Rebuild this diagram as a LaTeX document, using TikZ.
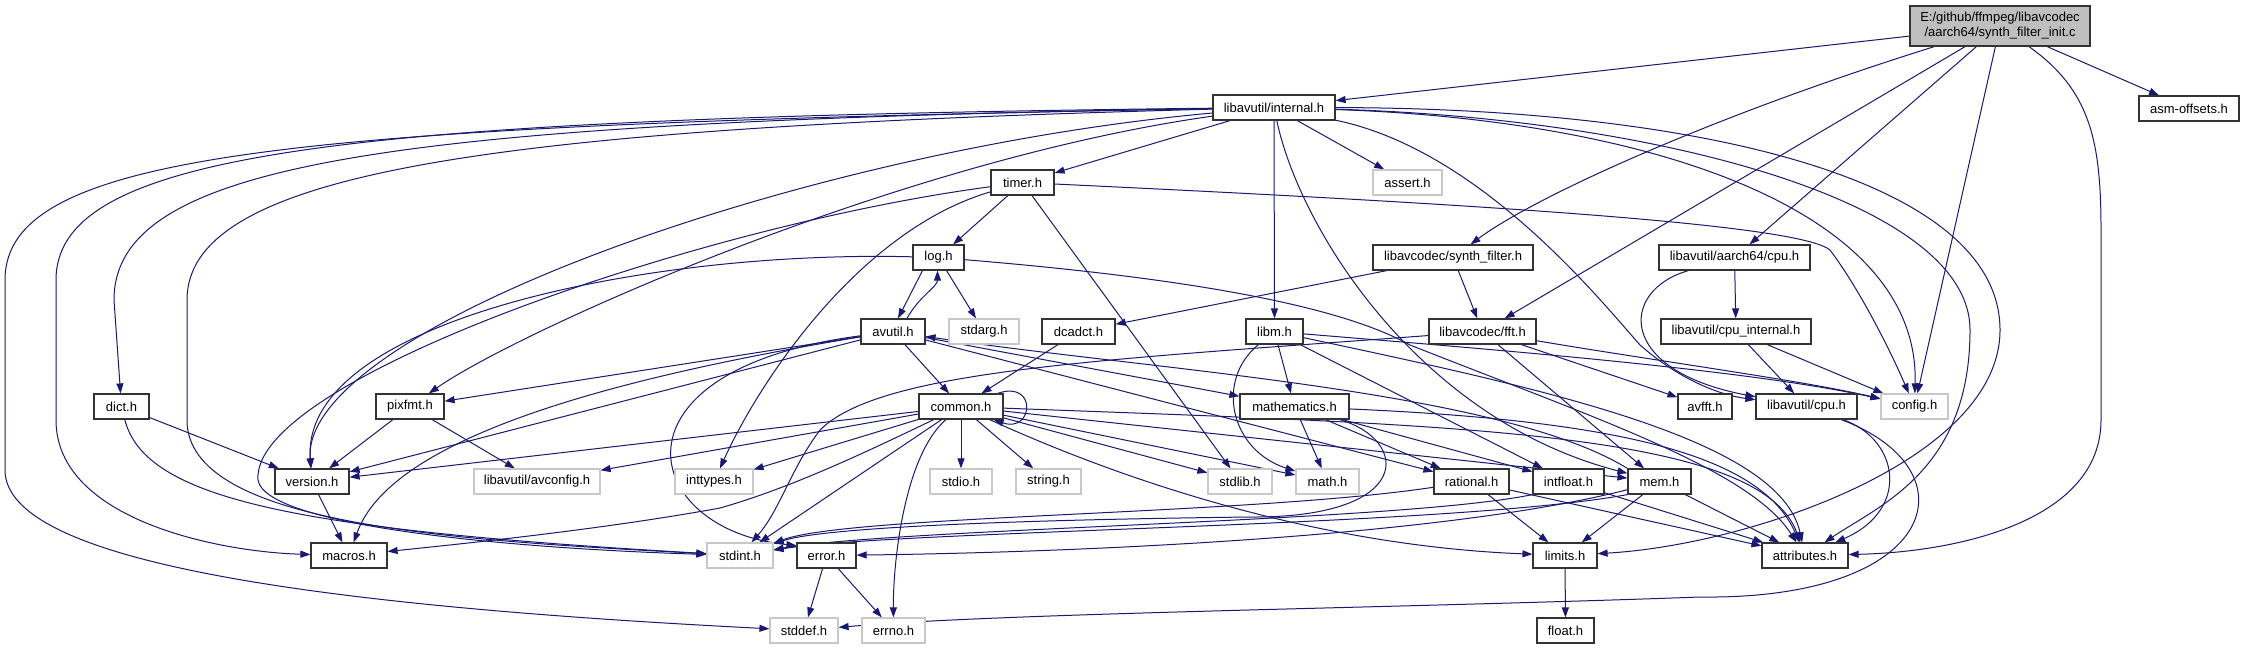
\documentclass[tikz,border=0pt]{standalone}
\usepackage{fontspec}
\setmainfont{Liberation Sans}
\usetikzlibrary{arrows.meta}
\definecolor{edgeblue}{HTML}{191970}
\definecolor{sysgray}{HTML}{C8C8C8}
\definecolor{mainfill}{HTML}{BFBFBF}
\pgfdeclarelayer{bg}
\pgfsetlayers{bg,main}
\begin{document}
\begin{tikzpicture}[x=1pt,y=-1pt,
  nbox/.style={rectangle, inner sep=0pt, minimum height=25pt, font=\fontsize{13}{15}\selectfont, line width=1.2pt, fill=white},
  hdr/.style={nbox, draw=black!80},
  sys/.style={nbox, draw=sysgray},
  mainbox/.style={nbox, draw=black!80, fill=mainfill, minimum height=40pt, align=center},
  dep/.style={draw=edgeblue, line width=1pt, -{Triangle[length=10pt,width=7pt]}}]
\useasboundingbox (0,0) rectangle (2245,649);
\begin{pgfonlayer}{bg}
\fill[white] (0,0) rectangle (2245,649);
\end{pgfonlayer}
% nodes
\node[mainbox, minimum width=180pt] (main) at (2000,26) {E:/github/ffmpeg/libavcodec\\/aarch64/synth\_filter\_init.c};
\node[hdr, minimum width=122pt] (internal) at (1274,107.5) {libavutil/internal.h};
\node[hdr, minimum width=100pt] (asmoffsets) at (2189,108.5) {asm-offsets.h};
\node[hdr, minimum width=63pt] (timer) at (1022.5,182.5) {timer.h};
\node[sys, minimum width=69pt] (assert) at (1407.5,182.5) {assert.h};
\node[hdr, minimum width=51pt] (log) at (938.5,257.5) {log.h};
\node[hdr, minimum width=160pt] (synth) at (1453,257.5) {libavcodec/synth\_filter.h};
\node[hdr, minimum width=151pt] (aacpu) at (1734.5,257.5) {libavutil/aarch64/cpu.h};
\node[hdr, minimum width=64pt] (avutil) at (893,331.5) {avutil.h};
\node[sys, minimum width=70pt] (stdarg) at (984,331.5) {stdarg.h};
\node[hdr, minimum width=73pt] (dcadct) at (1078.5,331.5) {dcadct.h};
\node[hdr, minimum width=57pt] (libm) at (1274.5,331.5) {libm.h};
\node[hdr, minimum width=107pt] (fft) at (1482.5,331.5) {libavcodec/fft.h};
\node[hdr, minimum width=150pt] (cpuint) at (1736,331.5) {libavutil/cpu\_internal.h};
\node[hdr, minimum width=55pt] (dict) at (121.5,406.5) {dict.h};
\node[hdr, minimum width=68pt] (pixfmt) at (410,406.5) {pixfmt.h};
\node[hdr, minimum width=84pt] (common) at (961,406.5) {common.h};
\node[hdr, minimum width=109pt] (mathematics) at (1294.5,406.5) {mathematics.h};
\node[hdr, minimum width=54pt] (avfft) at (1705,406.5) {avfft.h};
\node[hdr, minimum width=101pt] (cpu) at (1806.5,406.5) {libavutil/cpu.h};
\node[sys, minimum width=67pt] (config) at (1914.5,406.5) {config.h};
\node[hdr, minimum width=74pt] (version) at (312,481.5) {version.h};
\node[sys, minimum width=126pt] (avconfig) at (537,481.5) {libavutil/avconfig.h};
\node[sys, minimum width=78pt] (inttypes) at (714,481.5) {inttypes.h};
\node[sys, minimum width=62pt] (stdio) at (961,481.5) {stdio.h};
\node[sys, minimum width=65pt] (string) at (1048.5,481.5) {string.h};
\node[sys, minimum width=64pt] (stdlib) at (1240,481.5) {stdlib.h};
\node[sys, minimum width=63pt] (math) at (1327.5,481.5) {math.h};
\node[hdr, minimum width=75pt] (rational) at (1471.5,481.5) {rational.h};
\node[hdr, minimum width=71pt] (intfloat) at (1568.5,481.5) {intfloat.h};
\node[hdr, minimum width=63pt] (mem) at (1659.5,481.5) {mem.h};
\node[hdr, minimum width=76pt] (macros) at (349,555.5) {macros.h};
\node[sys, minimum width=66pt] (stdint) at (740,555.5) {stdint.h};
\node[hdr, minimum width=59pt] (error) at (826.5,555.5) {error.h};
\node[hdr, minimum width=64pt] (limits) at (1565,555.5) {limits.h};
\node[hdr, minimum width=86pt] (attributes) at (1805,555.5) {attributes.h};
\node[sys, minimum width=68pt] (stddef) at (804,630.5) {stddef.h};
\node[sys, minimum width=63pt] (errno) at (893.5,630.5) {errno.h};
\node[hdr, minimum width=57pt] (float) at (1565.5,630.5) {float.h};
% edges
\begin{pgfonlayer}{bg}
% main
\draw[dep] (main) -- (internal);
\draw[dep] (main) .. controls (1700,120) and (1530,200) .. (synth);
\draw[dep] (main) -- (fft);
\draw[dep] (main) -- (aacpu);
\draw[dep] (main) -- (config);
\draw[dep] (main) .. controls (2090,90) and (2101,140) .. (2101,230) -- (2101,420) .. controls (2101,520) and (1960,552) .. (attributes);
\draw[dep] (main) -- (asmoffsets);
% internal
\draw[dep] (internal) -- (timer);
\draw[dep] (internal) -- (assert);
\draw[dep] (internal) -- (libm);
\draw[dep] (internal) .. controls (1300,230) and (1420,420) .. (mem);
\draw[dep] (internal) .. controls (300,125) and (5,150) .. (5,280) -- (5,470) .. controls (5,560) and (300,605) .. (stddef);
\draw[dep] (internal) .. controls (350,118) and (56,150) .. (56,280) -- (56,420) .. controls (56,520) and (220,552) .. (macros);
\draw[dep] (internal) .. controls (400,122) and (114,160) .. (114,300) -- (dict);
\draw[dep] (internal) .. controls (500,128) and (187,170) .. (187,300) -- (187,420) .. controls (187,525) and (450,540) .. (stdint);
\draw[dep] (internal) .. controls (800,150) and (300,330) .. (version);
\draw[dep] (internal) .. controls (900,160) and (520,330) .. (pixfmt);
\draw[dep] (internal) .. controls (1650,120) and (1920,210) .. (config);
\draw[dep] (internal) .. controls (1650,118) and (1970,200) .. (1970,330) .. controls (1970,470) and (1880,505) .. (attributes);
\draw[dep] (internal) .. controls (1700,108) and (2000,180) .. (2000,330) .. controls (2000,460) and (1750,545) .. (limits);
\draw[dep] (internal) .. controls (1480,150) and (1600,300) .. (1640,345) .. controls (1680,380) and (1720,395) .. (cpu);
% timer
\draw[dep] (timer) -- (log);
\draw[dep] (timer) .. controls (1500,205) and (1800,225) .. (1830,250) .. controls (1860,290) and (1890,350) .. (config);
\draw[dep] (timer) -- (stdlib);
\draw[dep] (timer) .. controls (860,230) and (760,380) .. (inttypes);
\draw[dep] (timer) .. controls (700,225) and (250,380) .. (258,480) .. controls (265,525) and (500,548) .. (stdint);
% log
\draw[dep] ([xshift=-16pt]log.south) -- ([xshift=5pt]avutil.north);
\draw[dep] (log) -- (stdarg);
\draw[dep] (log) .. controls (650,250) and (300,320) .. (version);
\draw[dep] (log) .. controls (1150,275) and (1330,300) .. (1410,345) .. controls (1600,420) and (1750,470) .. (attributes);
% avutil
\draw[dep] ([xshift=14pt]avutil.north) .. controls +(12,-22) and +(0,16) .. ([xshift=-1pt]log.south);
\draw[dep] (avutil) -- (common);
\draw[dep] (avutil) .. controls (600,370) and (640,530) .. ([yshift=10pt]error.west);
\draw[dep] (avutil) -- (rational);
\draw[dep] (avutil) -- (version);
\draw[dep] (avutil) .. controls (600,380) and (390,440) .. (macros);
\draw[dep] (avutil) -- (mathematics);
\draw[dep] (avutil) -- (pixfmt);
% common
\draw[dep] ([xshift=-6pt]common.north east) .. controls +(40,-14) and +(40,14) .. ([xshift=-10pt]common.south east);
\draw[dep] (common) .. controls (905,455) and (893,560) .. (errno);
\draw[dep] (common) -- (inttypes);
\draw[dep] (common) .. controls (1100,470) and (1300,545) .. (limits);
\draw[dep] (common) -- (math);
\draw[dep] (common) -- (stdint);
\draw[dep] (common) -- (stdio);
\draw[dep] (common) -- (stdlib);
\draw[dep] (common) -- (string);
\draw[dep] (common) .. controls (1450,425) and (1760,430) .. (attributes);
\draw[dep] (common) .. controls (860,455) and (790,488) .. (720,508) .. controls (600,530) and (450,545) .. (macros);
\draw[dep] (common) -- (version);
\draw[dep] (common) -- (avconfig);
\draw[dep] (common) -- (mem);
% dcadct, synth
\draw[dep] (dcadct) -- (common);
\draw[dep] (synth) -- (dcadct);
\draw[dep] (synth) -- (fft);
% libm
\draw[dep] (libm) .. controls (1215,380) and (1230,450) .. (math);
\draw[dep] (libm) -- (mathematics);
\draw[dep] (libm) .. controls (1500,350) and (1750,370) .. (config);
\draw[dep] (libm) .. controls (1550,390) and (1780,440) .. (attributes);
\draw[dep] (libm) -- (intfloat);
% fft
\draw[dep] (fft) .. controls (1100,360) and (880,370) .. (820,430) .. controls (790,470) and (780,510) .. (stdint);
\draw[dep] (fft) .. controls (1650,360) and (1800,380) .. (config);
\draw[dep] (fft) -- (mem);
\draw[dep] (fft) -- (avfft);
% mathematics
\draw[dep] (mathematics) .. controls (1410,440) and (1415,518) .. (1250,517) .. controls (1000,520) and (820,528) .. (stdint);
\draw[dep] (mathematics) -- (math);
\draw[dep] (mathematics) .. controls (1600,420) and (1760,450) .. (attributes);
\draw[dep] (mathematics) -- (rational);
\draw[dep] (mathematics) -- (intfloat);
% rational
\draw[dep] (rational) .. controls (1250,515) and (850,515) .. (stdint);
\draw[dep] (rational) -- (limits);
\draw[dep] (rational) -- (attributes);
% intfloat
\draw[dep] (intfloat.south west) .. controls (1400,522) and (900,528) .. (stdint);
\draw[dep] (intfloat) -- (attributes);
% mem
\draw[dep] (mem) -- (limits);
\draw[dep] (mem.south west) .. controls (1450,527) and (900,530) .. (stdint);
\draw[dep] (mem) -- (attributes);
\draw[dep] (mem) .. controls (1450,535) and (1100,552) .. (error);
\draw[dep] (mem.north west) .. controls (1500,390) and (1150,370) .. (avutil);
% error
\draw[dep] (error) -- (errno);
\draw[dep] (error) -- (stddef);
% pixfmt, version, dict
\draw[dep] (pixfmt) -- (avconfig);
\draw[dep] (pixfmt) -- (version);
\draw[dep] (version) -- (macros);
\draw[dep] (dict) -- (version);
\draw[dep] (dict) .. controls (145,500) and (300,530) .. (stdint);
% limits
\draw[dep] (limits) -- (float);
% cpu headers
\draw[dep] (aacpu) -- (cpuint);
\draw[dep] (aacpu) .. controls (1620,290) and (1615,370) .. (cpu);
\draw[dep] (cpuint) -- (cpu);
\draw[dep] (cpuint) -- (config);
\draw[dep] (cpu) .. controls (1900,440) and (1910,510) .. (attributes);
\draw[dep] (cpu) .. controls (1975,470) and (1940,600) .. (1700,597) .. controls (1400,608) and (1000,613) .. (stddef);
\end{pgfonlayer}
\end{tikzpicture}
\end{document}
